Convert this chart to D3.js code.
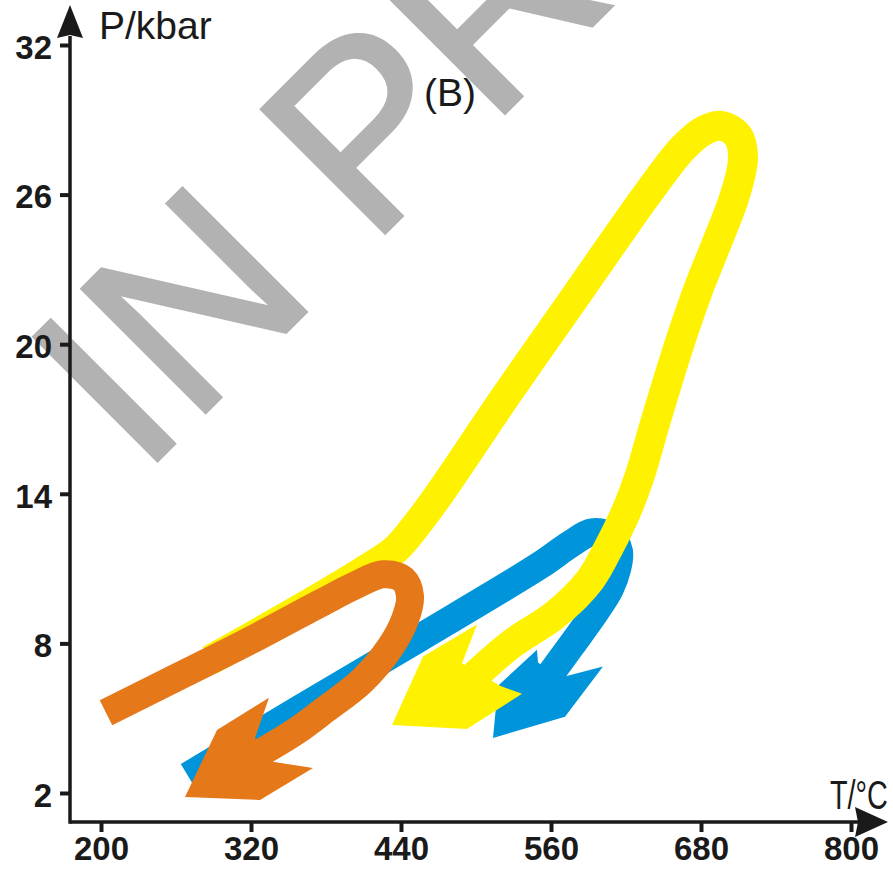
<!DOCTYPE html>
<html><head><meta charset="utf-8">
<script src="https://cdn.jsdelivr.net/npm/d3@7/dist/d3.min.js"></script>
<style>body{margin:0;background:#fff}svg{display:block}</style>
</head><body>
<svg id="c" width="893" height="870"></svg>
<script>
// ---- data (T in °C, P in kbar) ----
const tTicks = [200, 320, 440, 560, 680, 800];
const pTicks = [2, 8, 14, 20, 26, 32];

const yellowPath = [[287.2,7.33],[359.2,9.38],[411.2,10.94],[435.2,11.75],[453.6,12.83],[471.2,14.03],
  [521.6,17.76],[579.2,21.89],[608.8,24.02],[637.6,26.06],[665.6,27.87],[683.2,28.59],[696.8,28.75],
  [709.6,28.35],[713.6,27.47],[707.2,25.98],[693.6,24.18],[679.2,22.38],[666.4,20.57],[653.6,18.56],
  [641.6,16.56],[631.2,14.75],[620.0,13.27],[607.2,11.95],[591.2,10.54],[563.2,9.14],[529.6,8.02],[495.2,6.53]];
const yellowHead = [[432.8,4.73],[457.6,7.47],[500.8,8.76],[488.8,7.19],[519.2,6.30],[536.8,5.98],[492.8,4.57]];

const bluePath = [[269.6,2.68],[359.2,5.38],[455.2,8.23],[551.2,11.13],[575.2,11.97],[592.8,12.45],
  [607.2,12.29],[614.4,11.69],[612.8,10.97],[607.2,10.20],[595.2,9.24],[576.8,7.95],[559.2,6.74]];
const blueHead = [[513.6,4.21],[517.6,6.30],[548.8,7.75],[549.6,7.23],[567.2,6.62],[601.6,7.07],[571.2,5.06]];

const orangePath = [[204.0,5.22],[263.2,6.70],[319.2,8.11],[375.2,9.60],[403.2,10.32],[425.6,10.77],
  [441.6,10.57],[447.2,9.88],[443.2,8.96],[431.2,7.83],[408.8,6.50],[379.2,5.34],[355.2,4.45],[328.8,3.65]];
const orangeHead = [[267.2,1.84],[292.8,4.53],[334.4,5.82],[323.2,4.21],[337.6,3.25],[369.6,3.00],[327.2,1.72]];

const xLabel = "T/°C", yLabel = "P/kbar", panelLabel = "(B)", watermark = "IN PRESS";

// ---- drawing ----
const FONT = 'Liberation Sans, Arial, sans-serif';
const svg = d3.select('#c');
const x = d3.scaleLinear().domain([200, 800]).range([101, 851]);
const y = d3.scaleLinear().domain([2, 32]).range([793, 45]);
const ox = 70, oy = 822; // axis origin (layout)

// watermark
svg.append('text').text(watermark)
  .attr('transform', 'translate(141,477) rotate(-45)')
  .attr('font-family', FONT).attr('font-size', 254)
  .attr('fill', '#b2b2b2').attr('stroke', '#b2b2b2').attr('stroke-width', 3.5);

// paths
const line = d3.line().x(d => x(d[0])).y(d => y(d[1])).curve(d3.curveCatmullRom.alpha(0.5));
const poly = d3.line().x(d => x(d[0])).y(d => y(d[1])).curve(d3.curveLinearClosed);
const series = [
  {p: bluePath, h: blueHead, c: '#0095da', w: 28},
  {p: yellowPath, h: yellowHead, c: '#fff200', w: 30},
  {p: orangePath, h: orangeHead, c: '#e57818', w: 28}
];
series.forEach(s => {
  svg.append('path').attr('d', line(s.p)).attr('fill', 'none')
    .attr('stroke', s.c).attr('stroke-width', s.w).attr('stroke-linecap', 'butt').attr('stroke-linejoin', 'round');
  svg.append('path').attr('d', poly(s.h)).attr('fill', s.c);
});

// axes
const ax = svg.append('g').attr('stroke', '#1a1a1a');
ax.append('line').attr('x1', ox).attr('y1', oy).attr('x2', 858).attr('y2', oy).attr('stroke-width', 3.5);
ax.append('line').attr('x1', ox).attr('y1', oy + 1.75).attr('x2', ox).attr('y2', 36).attr('stroke-width', 3.5);
svg.append('path').attr('d', `M888,${oy}L855,${oy-15}L858,${oy}L855,${oy+15}Z`).attr('fill', '#1a1a1a');
svg.append('path').attr('d', `M${ox},5L${ox-13},38L${ox},35L${ox+13},38Z`).attr('fill', '#1a1a1a');

const xAxis = d3.axisBottom(x).tickValues(tTicks).tickSize(10).tickSizeOuter(0);
const gx = svg.append('g').attr('transform', `translate(0,${oy})`).call(xAxis);
gx.select('.domain').remove();
gx.selectAll('.tick line').attr('stroke', '#1a1a1a').attr('stroke-width', 4);
gx.selectAll('.tick text').attr('font-family', FONT).attr('font-weight', 'bold')
  .attr('font-size', 33).attr('fill', '#1a1a1a').attr('y', 38).attr('dy', null);

const yAxis = d3.axisLeft(y).tickValues(pTicks).tickSize(10).tickPadding(8).tickSizeOuter(0);
const gy = svg.append('g').attr('transform', `translate(${ox},0)`).call(yAxis);
gy.select('.domain').remove();
gy.selectAll('.tick line').attr('stroke', '#1a1a1a').attr('stroke-width', 4);
gy.selectAll('.tick text').attr('font-family', FONT).attr('font-weight', 'bold')
  .attr('font-size', 33).attr('fill', '#1a1a1a').attr('dy', '0.40em');

// labels
const lab = (t, xx, yy, fs, anchor) => svg.append('text').text(t).attr('x', xx).attr('y', yy)
  .attr('font-family', FONT).attr('font-size', fs)
  .attr('fill', '#1a1a1a').attr('text-anchor', anchor || 'start');
lab(yLabel, 99, 39, 39);
lab(xLabel, 0, 0, 40).attr('transform', 'translate(830,809) scale(0.72,1)');
lab(panelLabel, 424, 106, 39);
</script>
</body></html>
